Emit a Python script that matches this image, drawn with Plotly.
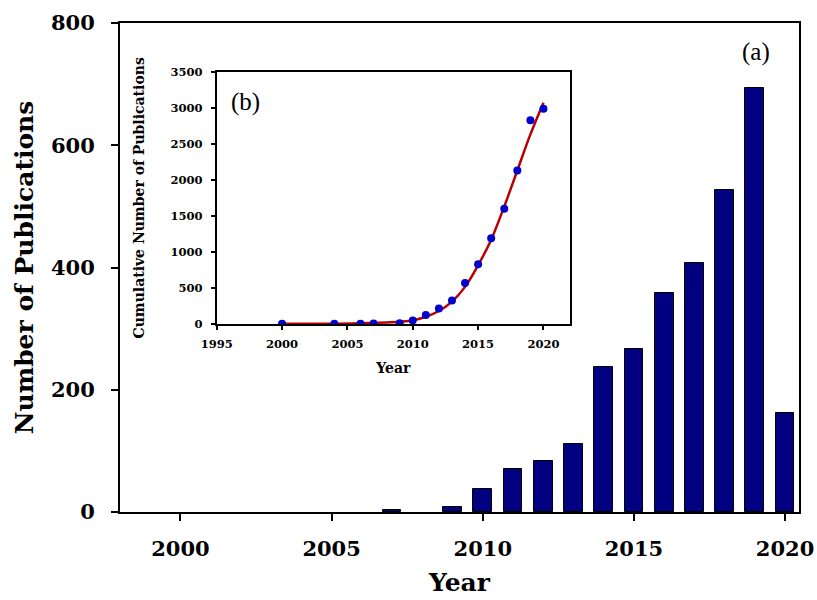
import plotly.graph_objects as go

# Main chart (a): publications per year
years = [2007, 2009, 2010, 2011, 2012, 2013, 2014, 2015, 2016, 2017, 2018, 2019, 2020]
pubs = [3, 8, 38, 71, 84, 112, 237, 266, 359, 407, 526, 694, 162]

# Inset (b): cumulative publications (points)
cum_years = [2000, 2004, 2006, 2007, 2009, 2010, 2011, 2012, 2013, 2014, 2015, 2016, 2017, 2018, 2019, 2020]
cum_pubs = [2, 3, 4, 6, 12, 50, 125, 215, 325, 570, 830, 1190, 1600, 2130, 2825, 2985]

# Inset (b): fitted curve
fit_years = [2000, 2004, 2006, 2008, 2009, 2010, 2011, 2012, 2013, 2014, 2015, 2016, 2017, 2018, 2019, 2020]
fit_vals = [3, 5, 10, 22, 32, 50, 100, 180, 310, 515, 815, 1170, 1630, 2130, 2630, 3070]

main_ticks = [2000, 2005, 2010, 2015, 2020]
main_yticks = [0, 200, 400, 600, 800]
inset_xticks = [1995, 2000, 2005, 2010, 2015, 2020]
inset_yticks = [0, 500, 1000, 1500, 2000, 2500, 3000, 3500]

SERIF = "DejaVu Serif"

fig = go.Figure()
fig.add_trace(go.Bar(
    x=years, y=pubs, width=0.62,
    marker=dict(color="#000080", line=dict(color="#000000", width=1)),
    xaxis="x", yaxis="y", showlegend=False,
))
fig.add_trace(go.Scatter(
    x=fit_years, y=fit_vals, mode="lines",
    line=dict(color="#b80000", width=2.5, shape="spline", smoothing=1.0),
    xaxis="x2", yaxis="y2", showlegend=False,
))
fig.add_trace(go.Scatter(
    x=cum_years, y=cum_pubs, mode="markers",
    marker=dict(color="#0000cc", size=8),
    xaxis="x2", yaxis="y2", showlegend=False,
))

W, H = 817, 600
L, R, T, B = 120, 18, 23, 88
pw, ph = W - L - R, H - T - B

def px_x(px):
    return (px - L) / pw

def px_y(py):
    return (H - B - py) / ph

fig.update_layout(
    width=W, height=H,
    margin=dict(l=L, r=R, t=T, b=B),
    paper_bgcolor="white", plot_bgcolor="white",
    font=dict(family=SERIF, color="black"),
    bargap=0,
    xaxis=dict(
        range=[1998.0, 2020.46], tickvals=main_ticks, automargin=False,
        showline=True, linecolor="black", linewidth=2, mirror=True,
        ticks="outside", ticklen=7, tickwidth=1.5, tickcolor="black",
        showgrid=False, zeroline=False,
        tickfont=dict(family=SERIF, size=21, weight="bold"),
        ticklabelstandoff=10,
    ),
    yaxis=dict(
        range=[0, 800], tickvals=main_yticks, automargin=False,
        showline=True, linecolor="black", linewidth=2, mirror=True,
        ticks="outside", ticklen=7, tickwidth=1.5, tickcolor="black",
        showgrid=False, zeroline=False,
        tickfont=dict(family=SERIF, size=21, weight="bold"),
        ticklabelstandoff=12,
        title=dict(text="Number of Publications", font=dict(family=SERIF, size=25, weight="bold"), standoff=10),
    ),
    xaxis2=dict(
        domain=[px_x(216.7), px_x(570)], anchor="y2", automargin=False,
        range=[1995, 2022.03], tickvals=inset_xticks,
        showline=True, linecolor="black", linewidth=2, mirror=True,
        ticks="outside", ticklen=4, tickwidth=1.5, tickcolor="black",
        showgrid=False, zeroline=False,
        tickfont=dict(family=SERIF, size=11.5, weight="bold"),
        ticklabelstandoff=4,
        title=dict(text="Year", font=dict(family=SERIF, size=14, weight="bold"), standoff=13),
    ),
    yaxis2=dict(
        domain=[px_y(324), px_y(71.7)], anchor="x2", automargin=False,
        range=[0, 3500], tickvals=inset_yticks,
        showline=True, linecolor="black", linewidth=2, mirror=True,
        ticks="outside", ticklen=4, tickwidth=1.5, tickcolor="black",
        showgrid=False, zeroline=False,
        tickfont=dict(family=SERIF, size=11.5, weight="bold"),
        ticklabelstandoff=6,
        title=dict(text="Cumulative Number of Publications", font=dict(family=SERIF, size=14, weight="bold"), standoff=22),
    ),
    annotations=[
        dict(text="Year", x=0.5, y=px_y(599), xref="paper", yref="paper",
             xanchor="center", yanchor="bottom",
             showarrow=False, font=dict(family=SERIF, size=25, weight="bold", color="black")),
        dict(text="(a)", x=px_x(756), y=px_y(52), xref="paper", yref="paper",
             xanchor="center", yanchor="middle",
             showarrow=False, font=dict(family="Liberation Serif", size=25, color="black")),
        dict(text="(b)", x=px_x(245), y=px_y(102), xref="paper", yref="paper",
             xanchor="center", yanchor="middle",
             showarrow=False, font=dict(family="Liberation Serif", size=25, color="black")),
    ],
)

fig.write_html("out.html")
